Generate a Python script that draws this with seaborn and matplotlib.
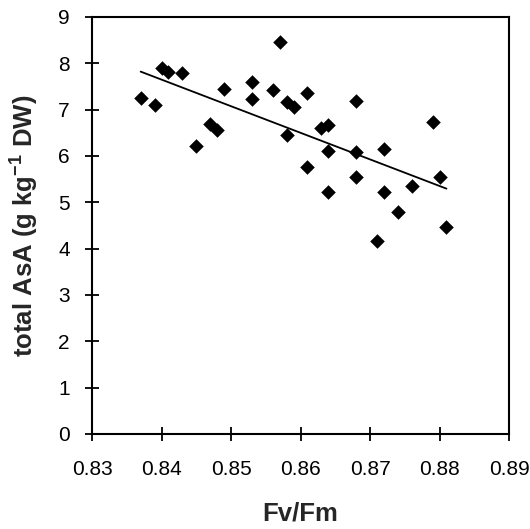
import matplotlib
matplotlib.use("Agg")
import matplotlib.pyplot as plt
import numpy as np
import pandas as pd
import seaborn as sns

# Fv/Fm vs total ascorbate
fv_fm = [0.837, 0.839, 0.840, 0.841, 0.843, 0.845, 0.847, 0.848, 0.849, 0.853,
         0.853, 0.856, 0.857, 0.858, 0.859, 0.858, 0.861, 0.861, 0.863, 0.864,
         0.864, 0.864, 0.868, 0.868, 0.868, 0.871, 0.872, 0.872, 0.874, 0.876,
         0.879, 0.880, 0.881]
total_asa = [7.26, 7.09, 7.90, 7.81, 7.80, 6.22, 6.69, 6.56, 7.45, 7.60,
             7.23, 7.42, 8.45, 7.17, 7.05, 6.45, 7.37, 5.77, 6.60, 6.67,
             6.11, 5.22, 7.19, 6.09, 5.55, 4.17, 6.15, 5.22, 4.79, 5.36,
             6.73, 5.55, 4.46]

x_ticks = [0.83, 0.84, 0.85, 0.86, 0.87, 0.88, 0.89]
y_ticks = list(range(0, 10))

df = pd.DataFrame({"Fv/Fm": fv_fm, "AsA": total_asa})

sns.set_style("ticks")
plt.rcParams["font.family"] = ["Liberation Sans", "DejaVu Sans"]
plt.rcParams["mathtext.fontset"] = "custom"
plt.rcParams["mathtext.rm"] = "Liberation Sans"
plt.rcParams["mathtext.bf"] = "Liberation Sans:bold"

fig = plt.figure(figsize=(5.30, 5.29), dpi=100)
ax = fig.add_axes([0.1736, 0.1796, 0.7868, 0.7883])

sns.regplot(data=df, x="Fv/Fm", y="AsA", ax=ax, ci=None, color="black",
            marker="D", scatter_kws={"s": 55, "linewidths": 0, "alpha": 1},
            line_kws={"lw": 1.3, "color": "black"})

ax.set_xlim(0.83, 0.89)
ax.set_ylim(0, 9)
ax.set_xticks(x_ticks)
ax.set_xticklabels([f"{t:.2f}" for t in x_ticks])
ax.set_yticks(y_ticks)
ax.set_yticklabels([str(t) for t in y_ticks])

for side in ["left", "right", "top", "bottom"]:
    ax.spines[side].set_visible(True)
    ax.spines[side].set_linewidth(1.5)
    ax.spines[side].set_color("black")

ax.tick_params(axis="both", direction="inout", length=10, width=1.3,
               colors="black", labelsize=15)
ax.tick_params(axis="x", pad=14)
ax.tick_params(axis="y", pad=11)

ax.set_xlabel("Fv/Fm", fontsize=18.5, fontweight="bold", labelpad=16)
ax.set_ylabel("total AsA (g kg$^{\\mathbf{-1}}$ DW)", fontsize=18.5,
              fontweight="bold", labelpad=13)

fig.savefig("out.png", dpi=100)
